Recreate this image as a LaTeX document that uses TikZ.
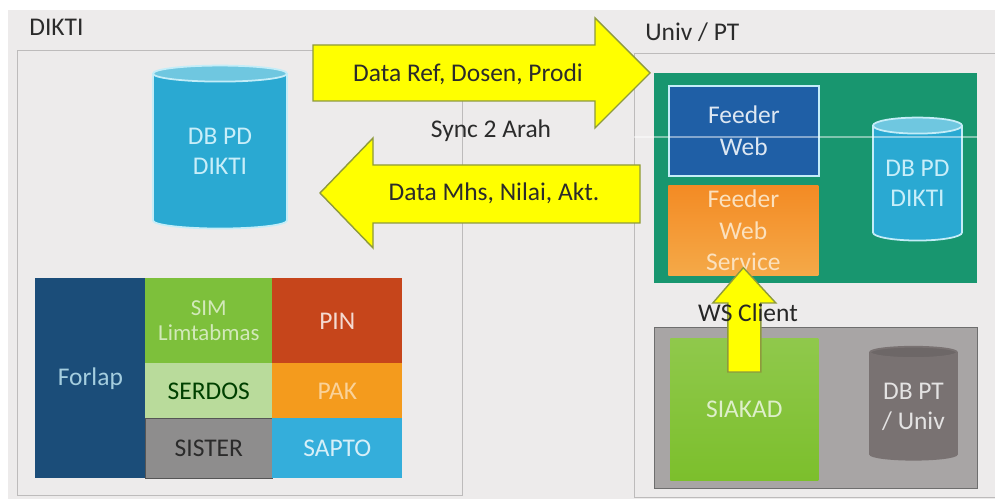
\documentclass[tikz,border=0pt]{standalone}
\usepackage{fontspec}
\setmainfont{Carlito}
\usetikzlibrary{shapes.geometric,calc}

\definecolor{bggray}{HTML}{EDEBEB}
\definecolor{panelgray}{HTML}{BDBBBB}
\definecolor{textdark}{HTML}{2B2B2B}
\definecolor{arrowyellow}{HTML}{FFFF00}
\definecolor{arrowedge}{HTML}{8E9A3C}
\definecolor{dbblue}{HTML}{2AA9D2}
\definecolor{dbtop}{HTML}{6FC7E0}
\definecolor{dbedge}{HTML}{C4EDF8}
\definecolor{dbtext}{HTML}{C8EEF9}
\definecolor{forlapblue}{HTML}{1B4D79}
\definecolor{simgreen}{HTML}{7DC03B}
\definecolor{serdosgreen}{HTML}{B9DB9B}
\definecolor{sistergray}{HTML}{8E8D8D}
\definecolor{pinred}{HTML}{C6451B}
\definecolor{pakorange}{HTML}{F49B1D}
\definecolor{saptoblue}{HTML}{34AEDB}
\definecolor{feedergreen}{HTML}{18966F}
\definecolor{feederblue}{HTML}{1F5FA6}
\definecolor{wsorange}{HTML}{F29A28}
\definecolor{univgray}{HTML}{A8A5A5}
\definecolor{univedge}{HTML}{6E6E6E}
\definecolor{siakadgreen}{HTML}{7CBF2C}
\definecolor{dbptgray}{HTML}{797272}

\tikzset{
  panel/.style={draw=panelgray, line width=0.8pt, inner sep=0pt, anchor=north west},
  tile/.style={inner sep=0pt, anchor=north west, align=center,
    font=\fontsize{14.5}{18}\selectfont},
  dbcyl/.style={cylinder, shape border rotate=90, aspect=0.25, inner sep=0pt,
    cylinder uses custom fill, align=center, line width=1pt,
    font=\fontsize{14.5}{17}\selectfont},
  blockarrow/.style={fill=arrowyellow, draw=arrowedge, line width=0.8pt},
  lbl/.style={inner sep=0pt, text=textdark, font=\fontsize{14.5}{17}\selectfont}
}

\begin{document}
\begin{tikzpicture}[x=0.02cm, y=-0.02cm]
  \clip (0,0) rectangle (995,499);
  \fill[white] (0,0) rectangle (995,499);
  \fill[bggray] (8,10) rectangle (995,499);

  % sisi DIKTI
  \node[panel, minimum width=8.9cm, minimum height=8.9cm] (dikti) at (17,50) {};
  \node[lbl, anchor=west] (diktilbl) at (29,27) {DIKTI};
  \node[dbcyl, draw=dbedge, cylinder body fill=dbblue, cylinder end fill=dbtop,
    text=dbtext, minimum width=2.68cm, minimum height=3.26cm] (dbpd) at (220,151.5) {DB PD\\DIKTI};

  \node[tile, fill=forlapblue, text=dbtext!80!forlapblue, minimum width=2.2cm, minimum height=4cm] (forlap) at (35,278) {Forlap};
  \node[tile, fill=simgreen, text=simgreen!35!white, minimum width=2.54cm, minimum height=1.7cm,
    font=\fontsize{13}{14.5}\selectfont] (sim) at (145,278) {SIM\\Limtabmas};
  \node[tile, fill=serdosgreen, text=green!25!black, minimum width=2.54cm, minimum height=1.1cm] (serdos) at (145,363) {SERDOS};
  \node[tile, fill=sistergray, draw=sistergray!60!black, text=textdark, minimum width=2.54cm, minimum height=1.2cm] (sister) at (145,418) {SISTER};
  \node[tile, fill=pinred, text=pinred!20!white, minimum width=2.6cm, minimum height=1.7cm] (pin) at (272,278) {PIN};
  \node[tile, fill=pakorange, text=pakorange!45!white, minimum width=2.6cm, minimum height=1.1cm] (pak) at (272,363) {PAK};
  \node[tile, fill=saptoblue, text=saptoblue!20!white, minimum width=2.6cm, minimum height=1.2cm] (sapto) at (272,418) {SAPTO};

  % sisi Univ / PT
  \node[panel, minimum width=7.4cm, minimum height=8.88cm] (univ) at (634,53) {};
  \node[lbl, anchor=west] (univlbl) at (645,32) {Univ / PT};

  \node[tile, fill=feedergreen, minimum width=6.46cm, minimum height=4.2cm] (feeder) at (654,73) {};
  \node[tile, fill=feederblue, draw=dbedge, line width=1pt, text=feederblue!15!white,
    minimum width=3cm, minimum height=1.8cm] (fweb) at (668,85) {Feeder\\Web};
  \node[tile, top color=wsorange!90!red, bottom color=wsorange!85!white, text=wsorange!30!white,
    minimum width=3cm, minimum height=1.8cm] (fws) at (668,185) {Feeder\\Web\\Service};
  \node[dbcyl, draw=dbedge, cylinder body fill=dbblue, cylinder end fill=dbtop,
    text=dbtext, minimum width=1.78cm, minimum height=2.46cm] (dbpt1) at (917.5,183.5) {DB PD\\DIKTI};

  \node[tile, fill=univgray, draw=univedge, line width=0.8pt, minimum width=6.46cm, minimum height=3.22cm] (univbox) at (654,327) {};
  \node[tile, top color=siakadgreen!85!white, bottom color=siakadgreen, text=siakadgreen!25!white,
    minimum width=2.96cm, minimum height=2.84cm] (siakad) at (670,338) {SIAKAD};
  \node[dbcyl, aspect=0.18, draw=dbptgray, cylinder body fill=dbptgray, cylinder end fill=dbptgray!90!black,
    text=dbptgray!20!white, minimum width=1.74cm, minimum height=2.26cm] (dbpt) at (913.5,406.5) {DB PT\\/ Univ};

  \draw[white, opacity=0.45, line width=0.6pt] (univ.west |- 0,137) -- (feeder.east |- 0,137);

  % panah sinkronisasi
  \draw[blockarrow] (313,45) -- (595,45) -- (595,18) -- (650,73) -- (595,128) -- (595,101) -- (313,101) -- cycle;
  \node[lbl] (dataref) at (468,74) {Data Ref, Dosen, Prodi};
  \draw[blockarrow] (640,165) -- (373,165) -- (373,138) -- (320,193) -- (373,248) -- (373,223) -- (640,223) -- cycle;
  \node[lbl] (datamhs) at (494,193) {Data Mhs, Nilai, Akt.};
  \node[lbl] (sync) at (491,131) {Sync 2 Arah};

  % panah WS
  \coordinate (wsbase) at ($(siakad.north)+(0,34)$);
  \coordinate (wstip) at ($(fws.south)+(0,-8)$);
  \draw[blockarrow] ($(wsbase)+(-16.5,0)$) -- ($(wsbase)+(-16.5,-69)$) -- ($(wsbase)+(-31.5,-69)$)
    -- (wstip) -- ($(wsbase)+(31.5,-69)$) -- ($(wsbase)+(16.5,-69)$) -- ($(wsbase)+(16.5,0)$) -- cycle;
  \node[lbl, text=black!85] (ws) at (748,313) {WS Client};
\end{tikzpicture}
\end{document}
